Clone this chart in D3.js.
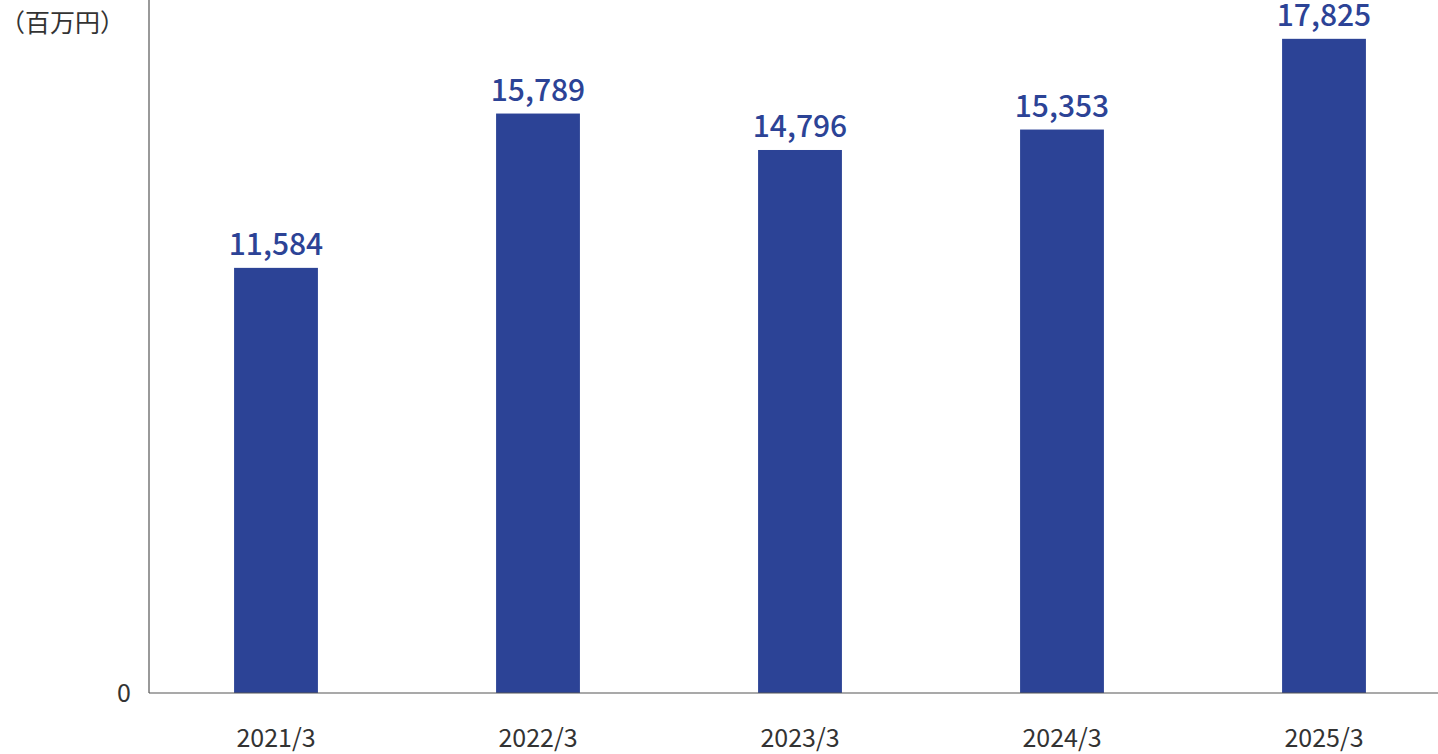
<!DOCTYPE html>
<html><head><meta charset="utf-8">
<script src="https://cdn.jsdelivr.net/npm/d3@7"></script>
<style>body{margin:0;background:#fff}text{font-family:"Noto Sans CJK JP","Noto Sans",sans-serif}</style>
</head><body>
<svg id="chart" width="1438" height="754"></svg>
<script>
const categories = ['2021/3', '2022/3', '2023/3', '2024/3', '2025/3'];
const values = [11584, 15789, 14796, 15353, 17825];
const unitLabel = '（百万円）';

const svg = d3.select('#chart');
const baseY = 693, axisX = 149;

const x = d3.scaleBand().domain(categories).range([145, 1455]).paddingInner(0.68).paddingOuter(0.34);
// slightly compressed so the tallest bar and its label stay on the page
const y = d3.scaleLinear().domain([0, 18000]).range([baseY, baseY - 18000 * 0.0367]);

svg.selectAll('rect.bar').data(values).enter().append('rect')
  .attr('class', 'bar')
  .attr('x', (d, i) => x(categories[i]))
  .attr('width', x.bandwidth())
  .attr('y', d => y(d))
  .attr('height', d => baseY - y(d))
  .attr('fill', '#2c4396');

svg.selectAll('text.val').data(values).enter().append('text')
  .attr('class', 'val')
  .attr('x', (d, i) => x(categories[i]) + x.bandwidth() / 2)
  .attr('y', d => y(d) - 13)
  .attr('text-anchor', 'middle')
  .attr('font-size', 30)
  .attr('font-weight', 500)
  .attr('fill', '#2c4396')
  .text(d => d3.format(',')(d));

// axes
svg.append('line').attr('x1', axisX).attr('x2', axisX).attr('y1', 0).attr('y2', baseY)
  .attr('stroke', '#555').attr('stroke-width', 1.2);
svg.append('line').attr('x1', axisX).attr('x2', 1438).attr('y1', baseY).attr('y2', baseY)
  .attr('stroke', '#555').attr('stroke-width', 1.2);

svg.selectAll('text.cat').data(categories).enter().append('text')
  .attr('class', 'cat')
  .attr('x', d => x(d) + x.bandwidth() / 2)
  .attr('y', 747)
  .attr('text-anchor', 'middle')
  .attr('font-size', 25)
  .attr('fill', '#333')
  .text(d => d);

svg.append('text').attr('x', 131).attr('y', 702).attr('text-anchor', 'end')
  .attr('font-size', 25).attr('fill', '#333').text(y.ticks(1)[0]);

svg.append('text').attr('x', 0).attr('y', 32)
  .attr('font-size', 25).attr('fill', '#333').text(unitLabel);
</script>
</body></html>
